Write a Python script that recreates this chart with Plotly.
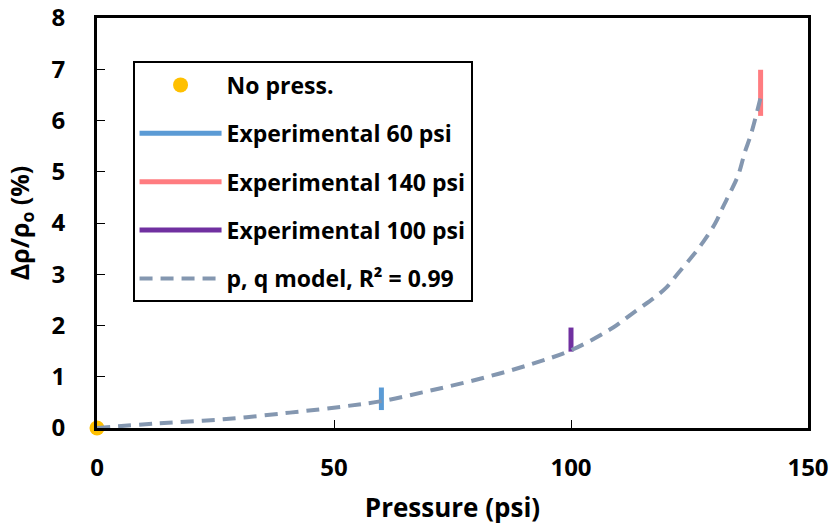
import plotly.graph_objects as go

# ---- data ----
no_press_x = [0]
no_press_y = [0]

exp60_x = [60, 60]
exp60_y = [0.35, 0.79]

exp140_x = [140, 140]
exp140_y = [6.09, 6.99]

exp100_x = [100, 100]
exp100_y = [1.49, 1.96]

model_x = [0, 12.6, 26.6, 40.7, 52, 60.4, 70.3, 80.8, 91.4, 100.1, 108.9, 111.0,
           113.9, 117.4, 120.2, 122.6, 125.5, 127.9, 130.4, 132.1, 133.5, 135.3,
           136.7, 137.8, 138.8, 140.0]
model_y = [0, 0.09, 0.17, 0.30, 0.42, 0.53, 0.73, 0.96, 1.24, 1.52, 1.96, 2.10,
           2.30, 2.53, 2.75, 3.02, 3.34, 3.63, 3.99, 4.32, 4.58, 4.94,
           5.39, 5.68, 6.01, 6.45]

x_ticks = [0, 50, 100, 150]
y_ticks = [0, 1, 2, 3, 4, 5, 6, 7, 8]

FONT = "Open Sans"

fig = go.Figure()
fig.add_trace(go.Scatter(x=no_press_x, y=no_press_y, mode="markers", name="No press.",
                         marker=dict(color="#FFC000", size=15), cliponaxis=False,
                         legendgroup="a"))
fig.add_trace(go.Scatter(x=exp60_x, y=exp60_y, mode="lines", name="Experimental 60 psi",
                         line=dict(color="#5B9BD5", width=5), legendgroup="b"))
fig.add_trace(go.Scatter(x=exp140_x, y=exp140_y, mode="lines", name="Experimental 140 psi",
                         line=dict(color="#FF7C80", width=5), legendgroup="c"))
fig.add_trace(go.Scatter(x=exp100_x, y=exp100_y, mode="lines", name="Experimental 100 psi",
                         line=dict(color="#7030A0", width=5), legendgroup="d"))
fig.add_trace(go.Scatter(x=model_x, y=model_y, mode="lines", name="p, q model, R² = 0.99",
                         line=dict(color="#8497B0", width=4, dash="13px,8px", shape="spline"),
                         legendgroup="e"))

fig.update_layout(
    width=832, height=525,
    margin=dict(l=97, r=24, t=18, b=97),
    paper_bgcolor="white", plot_bgcolor="white",
    font=dict(family=FONT, color="black", weight="bold"),
    showlegend=True,
    legend=dict(x=0.05, y=0.894, xanchor="left", yanchor="top",
                bordercolor="black", borderwidth=2, bgcolor="white",
                font=dict(family=FONT, size=23, color="black", weight="bold"),
                tracegroupgap=15.5, itemwidth=82,
                traceorder="grouped"),
    xaxis=dict(range=[0, 150], tickvals=x_ticks, ticktext=[str(v) for v in x_ticks],
               showgrid=False, zeroline=False, showline=True, linecolor="black",
               linewidth=3, mirror=True, ticks="inside", ticklen=8, tickcolor="black",
               tickwidth=1, ticklabelstandoff=16, automargin=False,
               ticklabeloverflow="allow",
               tickfont=dict(family=FONT, size=24, color="black", weight="bold"),
               title=dict(text="Pressure (psi)", standoff=26,
                          font=dict(family=FONT, size=26, color="black", weight="bold"))),
    yaxis=dict(range=[0, 8], tickvals=y_ticks, ticktext=[str(v) for v in y_ticks],
               showgrid=False, zeroline=False, showline=True, linecolor="black",
               linewidth=3, mirror=True, ticks="inside", ticklen=8, tickcolor="black",
               tickwidth=1, ticklabelstandoff=24, automargin=False,
               ticklabeloverflow="allow",
               tickfont=dict(family=FONT, size=24, color="black", weight="bold"),
               title=dict(text="Δρ/ρ<sub>o</sub> (%)", standoff=15,
                          font=dict(family=FONT, size=25, color="black", weight="bold"))),
)

# remove the browser's default 8px page margin so the figure fills the window
fig.write_html("out.html", config={"displayModeBar": False},
               post_script="document.body.style.margin='0px';")
